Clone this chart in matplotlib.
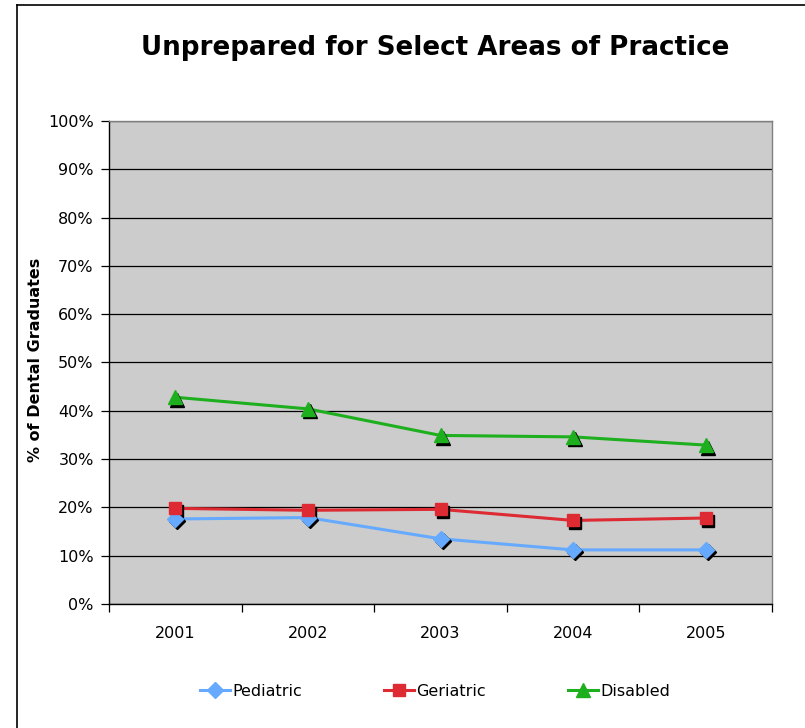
import matplotlib
matplotlib.use("Agg")
import matplotlib.pyplot as plt
import matplotlib.transforms as mtransforms
from matplotlib.lines import Line2D
from matplotlib.ticker import FixedLocator, FuncFormatter

years = ["2001", "2002", "2003", "2004", "2005"]
pediatric = [17.6, 17.9, 13.5, 11.2, 11.2]
geriatric = [19.8, 19.4, 19.6, 17.3, 17.8]
disabled = [42.8, 40.4, 34.9, 34.6, 32.9]

series = [
    ("Pediatric", pediatric, "#66AAFF", "D", 8),
    ("Geriatric", geriatric, "#DD2A33", "s", 8.5),
    ("Disabled", disabled, "#1DAF1D", "^", 9.5),
]

W, H = 805, 728
fig = plt.figure(figsize=(W / 100, H / 100), dpi=100)
fig.patch.set_facecolor("white")

# outer chart border (left and top visible)
fig.add_artist(Line2D([17 / W, 17 / W], [0, 1 - 5 / H], transform=fig.transFigure, color="black", lw=1.2))
fig.add_artist(Line2D([17 / W, 1], [1 - 5 / H, 1 - 5 / H], transform=fig.transFigure, color="black", lw=1.2))

left, right, top, bottom = 109, 772, 121, 604
ax = fig.add_axes([left / W, 1 - bottom / H, (right - left) / W, (bottom - top) / H])
ax.set_facecolor("#CCCCCC")

x = list(range(1, len(years) + 1))
ax.set_xlim(0.5, len(years) + 0.5)
ax.set_ylim(0, 100)

ax.yaxis.set_major_locator(FixedLocator(range(0, 101, 10)))
ax.yaxis.set_major_formatter(FuncFormatter(lambda v, p: f"{int(v)}%"))
ax.grid(axis="y", color="black", lw=0.9)
ax.set_axisbelow(True)

ax.xaxis.set_major_locator(FixedLocator([i + 0.5 for i in range(0, len(years) + 1)]))
ax.xaxis.set_major_formatter(FuncFormatter(lambda v, p: ""))
ax.xaxis.set_minor_locator(FixedLocator(x))
ax.set_xticklabels(years, minor=True)
ax.tick_params(axis="x", which="minor", length=0, pad=16, labelsize=11.5)
ax.tick_params(axis="x", which="major", direction="out", length=6, width=0.9)
ax.tick_params(axis="y", direction="out", length=6, width=0.9, labelsize=11.5, pad=5)

for side in ["top", "right"]:
    ax.spines[side].set_color("#808080")
    ax.spines[side].set_linewidth(1.0)
for side in ["left", "bottom"]:
    ax.spines[side].set_color("black")
    ax.spines[side].set_linewidth(1.0)

shadow = mtransforms.offset_copy(ax.transData, fig=fig, x=2, y=-2.5, units="dots")
handles = []
for name, vals, color, mk, ms in series:
    ax.plot(x, vals, color=color, lw=2.2, zorder=3)
    ax.plot(x, vals, ls="none", marker=mk, ms=ms, color="black", mec="black", transform=shadow, zorder=4)
    ax.plot(x, vals, ls="none", marker=mk, ms=ms, color=color, mec=color, zorder=5)
    handles.append(Line2D([], [], color=color, lw=2.2, marker=mk, ms=ms, mec=color, label=name))

fig.text(435 / W, 1 - 48 / H, "Unprepared for Select Areas of Practice", ha="center", va="center",
         fontsize=18.8, fontweight="bold")
fig.text(36 / W, 1 - 360 / H, "% of Dental Graduates", ha="center", va="center", rotation=90,
         fontsize=11.5, fontweight="bold")

leg = fig.legend(handles=handles, loc="center", bbox_to_anchor=(435 / W, 1 - 691 / H), ncol=3,
                 frameon=False, fontsize=11.5, handlelength=1.9, handletextpad=0.15, columnspacing=5.1)

fig.savefig("out.png", dpi=100)
